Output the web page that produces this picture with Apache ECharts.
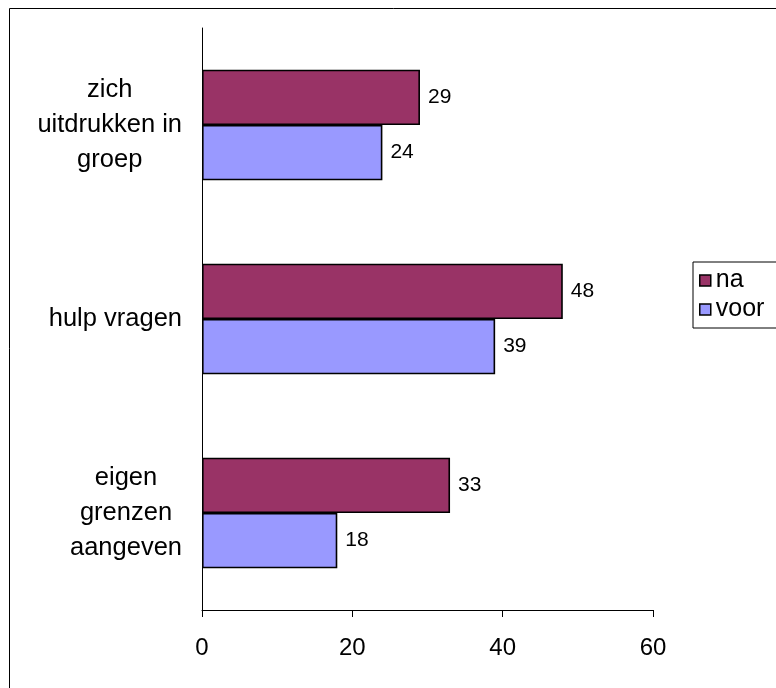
<!DOCTYPE html>
<html>
<head>
<meta charset="utf-8">
<script src="https://cdn.jsdelivr.net/npm/echarts@6/dist/echarts.min.js"></script>
<style>
  html, body { margin: 0; padding: 0; background: #fff; }
  #chart { width: 776px; height: 688px; }
</style>
</head>
<body>
<div id="chart"></div>
<script>
// Categories, top to bottom
const categories = ['zich\nuitdrukken in\ngroep', 'hulp vragen', 'eigen\ngrenzen\naangeven'];
// Series values per category
const naValues = [29, 48, 33];
const voorValues = [24, 39, 18];
// Value axis ticks
const xTicks = [0, 20, 40, 60];

const FONT = '"Liberation Sans", Arial, sans-serif';

const chart = echarts.init(document.getElementById('chart'), null, { renderer: 'canvas' });

chart.setOption({
  backgroundColor: '#ffffff',
  animation: false,
  graphic: [{
    type: 'rect',
    shape: { x: 9.5, y: 8.5, width: 800, height: 700 },
    style: { fill: 'none', stroke: '#000', lineWidth: 1 },
    silent: true
  }],
  legend: {
    orient: 'vertical',
    left: 693,
    top: 262,
    data: ['na', 'voor'],
    icon: 'rect',
    itemWidth: 11,
    itemHeight: 11,
    itemGap: 4,
    padding: [6, 40, 6, 6],
    borderColor: '#000',
    borderWidth: 1,
    textStyle: { fontFamily: FONT, fontSize: 25, color: '#000' },
    itemStyle: { borderColor: '#000', borderWidth: 1.5 }
  },
  grid: { left: 202, right: 123, top: 28, bottom: 78, containLabel: false },
  xAxis: {
    type: 'value',
    min: xTicks[0],
    max: xTicks[xTicks.length - 1],
    interval: xTicks[1] - xTicks[0],
    axisLine: { show: true, lineStyle: { color: '#000', width: 1 } },
    axisTick: { show: true, length: 7, lineStyle: { color: '#000' } },
    splitLine: { show: false },
    axisLabel: { fontFamily: FONT, fontSize: 24, color: '#000', margin: 26 }
  },
  yAxis: {
    type: 'category',
    inverse: true,
    data: categories,
    axisLine: { show: true, lineStyle: { color: '#000', width: 1 } },
    axisTick: { show: false },
    axisLabel: {
      margin: 20,
      align: 'right',
      formatter: function (v) {
        return v.split('\n').map(function (s) { return '{c|' + s + '}'; }).join('\n');
      },
      rich: {
        c: { fontFamily: FONT, fontSize: 25.5, color: '#000', align: 'center', lineHeight: 35 }
      }
    }
  },
  series: [
    {
      name: 'na',
      type: 'bar',
      data: naValues,
      barGap: '0%',
      barCategoryGap: '43%',
      itemStyle: { color: '#993366', borderColor: '#000', borderWidth: 1.6 },
      label: { show: true, position: 'right', distance: 8, fontFamily: FONT, fontSize: 21, color: '#000' }
    },
    {
      name: 'voor',
      type: 'bar',
      data: voorValues,
      barGap: '0%',
      barCategoryGap: '43%',
      itemStyle: { color: '#9999FF', borderColor: '#000', borderWidth: 1.6 },
      label: { show: true, position: 'right', distance: 8, fontFamily: FONT, fontSize: 21, color: '#000' }
    }
  ]
});
</script>
</body>
</html>
